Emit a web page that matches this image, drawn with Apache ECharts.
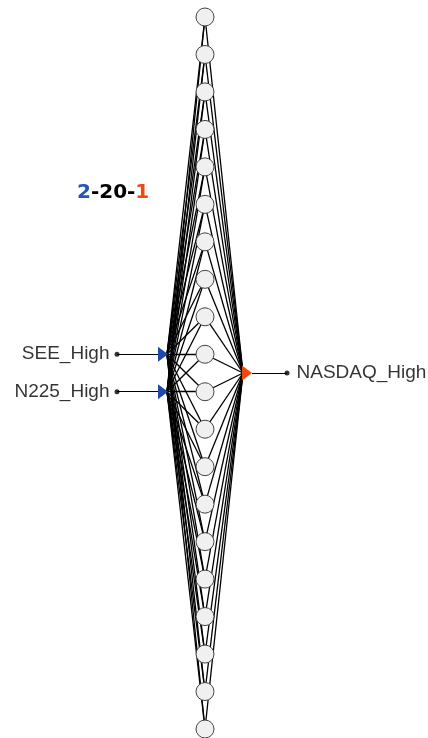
<!DOCTYPE html>
<html>
<head>
<meta charset="utf-8">
<script src="https://cdn.jsdelivr.net/npm/echarts@6/dist/echarts.min.js"></script>
<style>
html,body{margin:0;padding:0;background:#fff;}
#c{width:428px;height:738px;}
</style>
</head>
<body>
<div id="c"></div>
<script>
// ---- data ----
const inputLabels = ['SEE_High', 'N225_High'];
const hiddenCount = 20;
const outputLabels = ['NASDAQ_High'];
const titleParts = ['2', '-20-', '1'];

// ---- layout helpers (pixel -> data units along x) ----
const GL = 167, UX = 38;
const px = v => (v - GL) / UX;

const nodes = [];
const links = [];
inputLabels.forEach((name, i) => {
  nodes.push({
    name: 'in' + i,
    value: [0, i - (inputLabels.length - 1) / 2],
    symbol: 'path://M0,0L10,7L0,14Z',
    symbolSize: [10, 15],
    symbolOffset: [-4, 0],
    itemStyle: { color: '#1c4aa6', borderWidth: 0 }
  });
});
for (let j = 0; j < hiddenCount; j++) {
  nodes.push({
    name: 'h' + j,
    value: [1, j - (hiddenCount - 1) / 2],
    symbol: 'circle',
    symbolSize: 18,
    itemStyle: { color: '#f0f0f0', borderColor: '#444', borderWidth: 1 }
  });
}
outputLabels.forEach((name, k) => {
  nodes.push({
    name: 'out' + k,
    value: [2, k - (outputLabels.length - 1) / 2],
    symbol: 'path://M0,0L10,7L0,14Z',
    symbolSize: [10, 15],
    symbolOffset: [4, 0],
    itemStyle: { color: '#f5460f', borderWidth: 0 }
  });
});
inputLabels.forEach((_, i) => {
  for (let j = 0; j < hiddenCount; j++) links.push({ source: 'in' + i, target: 'h' + j });
});
for (let j = 0; j < hiddenCount; j++) {
  outputLabels.forEach((_, k) => links.push({ source: 'h' + j, target: 'out' + k }));
}

// stubs and labels
const stubLines = [];
const dots = [];
inputLabels.forEach((name, i) => {
  const y = i - (inputLabels.length - 1) / 2;
  stubLines.push({ coords: [[px(117), y], [px(158), y]] });
  dots.push({ value: [px(117), y], label: { show: true, position: 'left', distance: 5, formatter: name } });
});
outputLabels.forEach((name, k) => {
  const y = k - (outputLabels.length - 1) / 2;
  stubLines.push({ coords: [[px(252), y], [px(287), y]] });
  dots.push({ value: [px(287), y], label: { show: true, position: 'right', distance: 7, formatter: name } });
});

const chart = echarts.init(document.getElementById('c'), null, { renderer: 'canvas' });
chart.setOption({
  animation: false,
  backgroundColor: '#ffffff',
  title: {
    left: 77, top: 183, padding: 0,
    text: '{b|' + titleParts[0] + '}{k|' + titleParts[1] + '}{o|' + titleParts[2] + '}',
    textStyle: {
      rich: {
        b: { color: '#1f57b8', fontFamily: 'DejaVu Sans', fontWeight: 'bold', fontSize: 20, lineHeight: 20 },
        k: { color: '#000000', fontFamily: 'DejaVu Sans', fontWeight: 'bold', fontSize: 20, lineHeight: 20 },
        o: { color: '#f5460f', fontFamily: 'DejaVu Sans', fontWeight: 'bold', fontSize: 20, lineHeight: 20 }
      }
    }
  },
  grid: { left: GL, right: 428 - (GL + 2 * UX), top: 17, bottom: 9 },
  xAxis: { type: 'value', min: 0, max: 2, show: false },
  yAxis: { type: 'value', min: -(hiddenCount - 1) / 2, max: (hiddenCount - 1) / 2, inverse: true, show: false },
  series: [
    {
      type: 'lines', coordinateSystem: 'cartesian2d', clip: false, silent: true,
      lineStyle: { color: '#000', width: 1, opacity: 1 },
      data: stubLines, z: 1
    },
    {
      type: 'scatter', clip: false, silent: true, symbol: 'circle', symbolSize: 5,
      itemStyle: { color: '#000' },
      label: { color: '#000', fontFamily: 'Liberation Sans', fontSize: 19 },
      data: dots, z: 3
    },
    {
      type: 'graph', coordinateSystem: 'cartesian2d', silent: true,
      data: nodes, links: links,
      edgeSymbol: ['none', 'none'],
      lineStyle: { color: '#000', width: 1.3, opacity: 1, curveness: 0 },
      label: { show: false },
      z: 2
    }
  ]
});
</script>
</body>
</html>
